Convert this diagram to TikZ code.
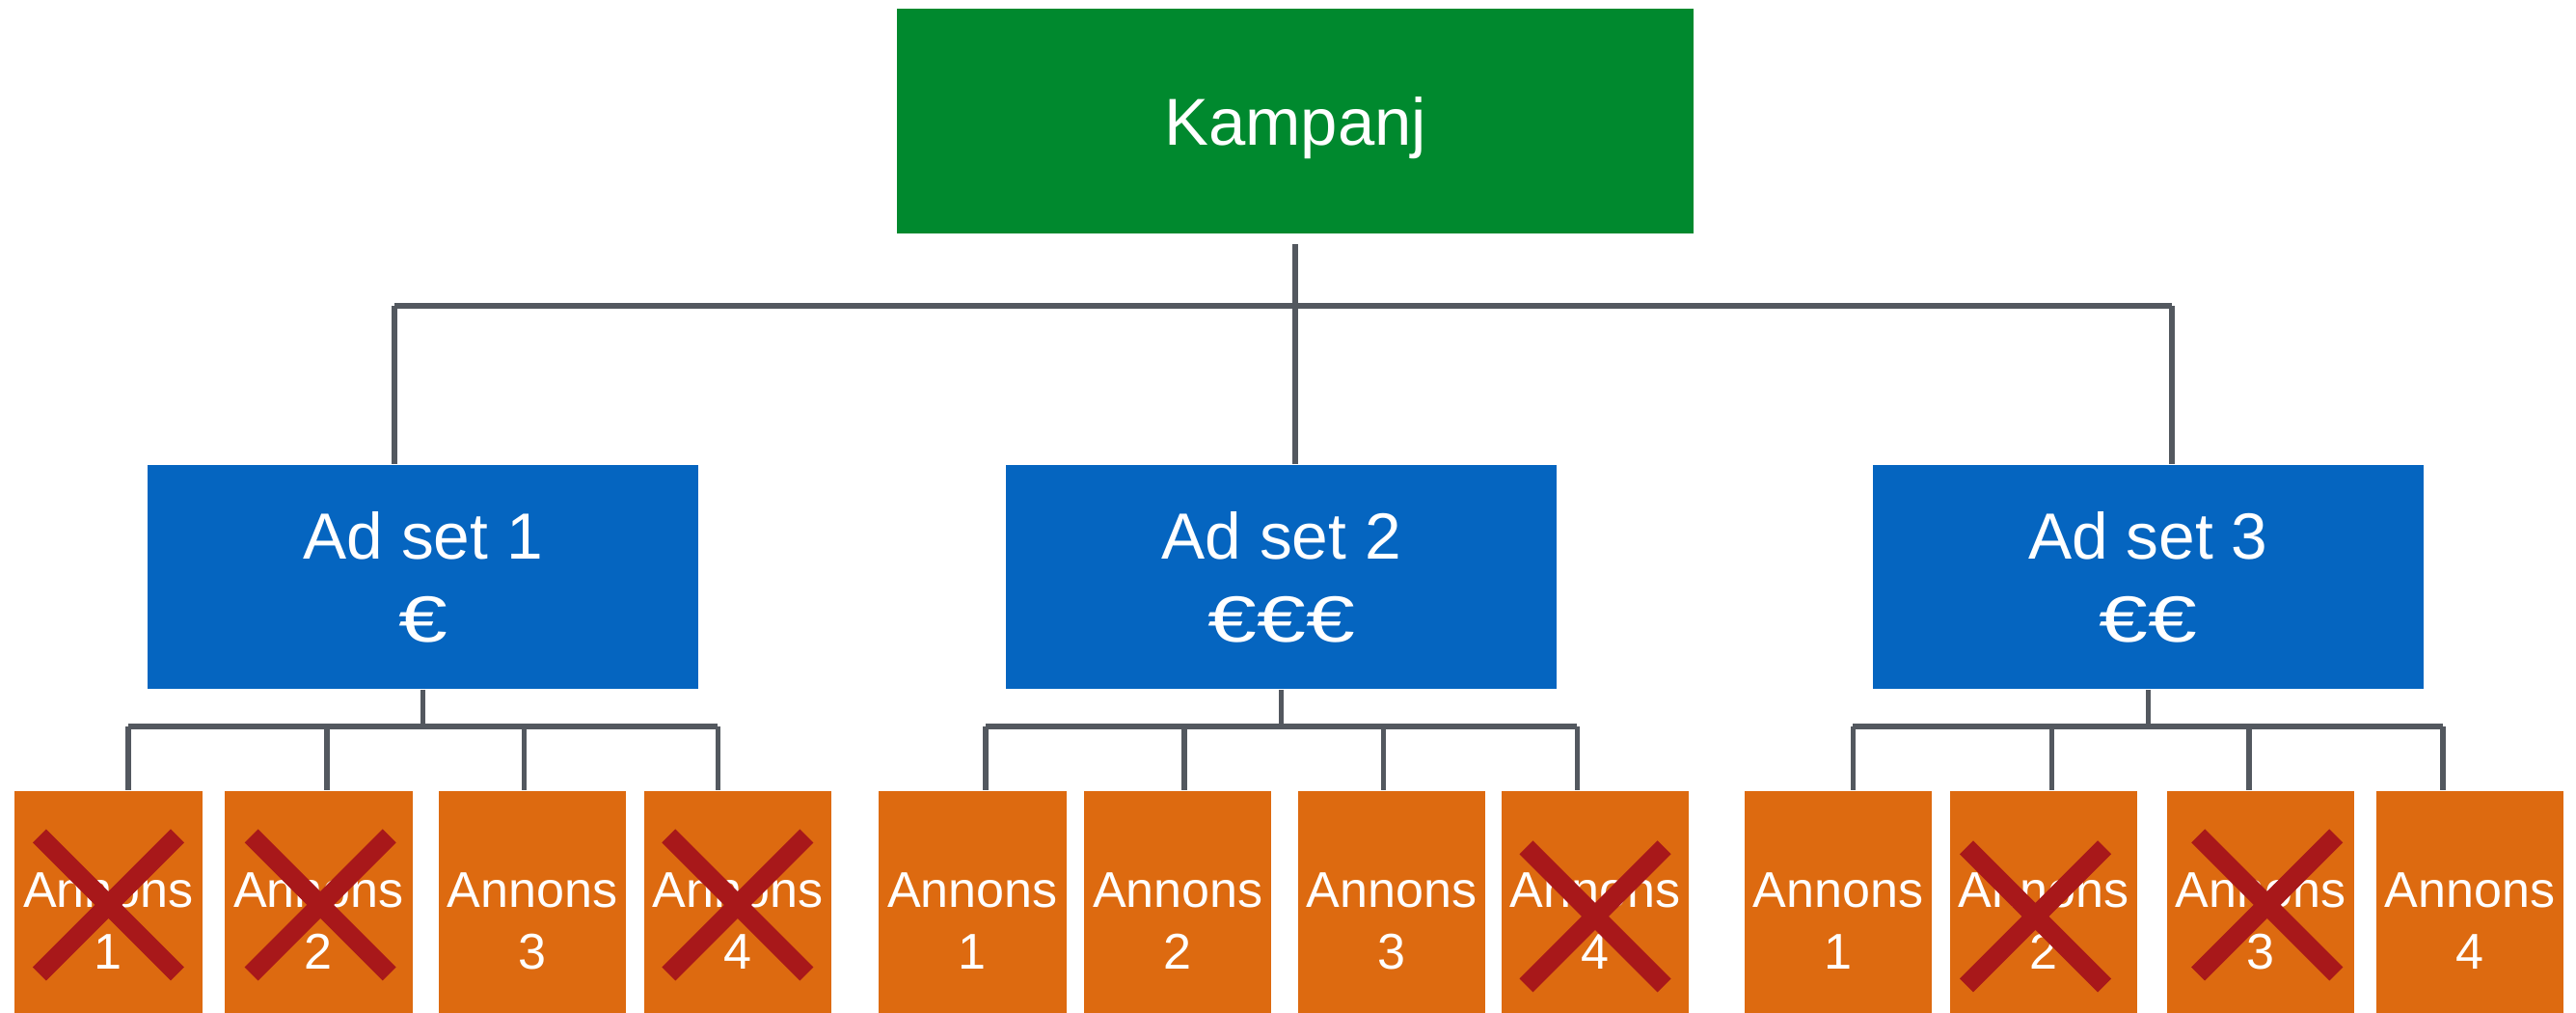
\documentclass[tikz,border=0pt]{standalone}
\usepackage{fontspec}
\setmainfont{Liberation Sans}
\newfontfamily\eurofont[FakeStretch=1.35]{Liberation Sans}
\usepackage{xcolor}
\usepackage{tikz}

\definecolor{kampgreen}{HTML}{00892E}
\definecolor{setblue}{HTML}{0565C0}
\definecolor{adorange}{HTML}{DD6A10}
\definecolor{nixred}{HTML}{A8181A}
\definecolor{linegray}{HTML}{53585F}

\begin{document}
\begin{tikzpicture}[
  x=0.1mm, y=-0.1mm,
  campaign/.style={
    fill=kampgreen, text=white, minimum width=48.5mm, minimum height=13.7mm,
    text depth=0pt, font=\fontsize{11.5}{14}\selectfont
  },
  adset/.style={
    fill=setblue, text=white, minimum width=33.5mm, minimum height=13.6mm,
    align=center, font=\fontsize{11.3}{14.4}\selectfont
  },
  ad/.style={
    fill=adorange, text=white, minimum width=11.4mm, minimum height=15.84mm,
    inner sep=0pt, align=center, font=\fontsize{8.7}{10.7}\selectfont
  },
  conn/.style={draw=linegray, line width=0.9pt},
  nix/.style={draw=nixred, line width=3.3pt},
]
\useasboundingbox (0,0) rectangle (1568,616);

%% ── Campaign and ad sets ─────────────────────────────────────────────────────
\node[campaign] (kampanj) at (788.5, 73.5) {Kampanj};
\node[adset]    (adset1)  at (257.5, 351)  {Ad set 1\\{\eurofont €}};
\node[adset]    (adset2)  at (780,   351)  {Ad set 2\\{\eurofont €€€}};
\node[adset]    (adset3)  at (1307.5,351)  {Ad set 3\\{\eurofont €€}};

%% ── Ads ──────────────────────────────────────────────────────────────────────
\node[ad] (ad11) at (66,    560.6) {Annons\\1};
\node[ad] (ad12) at (194,   560.6) {Annons\\2};
\node[ad] (ad13) at (324,   560.6) {Annons\\3};
\node[ad] (ad14) at (449,   560.6) {Annons\\4};
\node[ad] (ad21) at (592,   560.6) {Annons\\1};
\node[ad] (ad22) at (717,   560.6) {Annons\\2};
\node[ad] (ad23) at (847,   560.6) {Annons\\3};
\node[ad] (ad24) at (971,   560.6) {Annons\\4};
\node[ad] (ad31) at (1119,  560.6) {Annons\\1};
\node[ad] (ad32) at (1244,  560.6) {Annons\\2};
\node[ad] (ad33) at (1376,  560.6) {Annons\\3};
\node[ad] (ad34) at (1503.5,560.6) {Annons\\4};

%% ── Campaign → ad sets ───────────────────────────────────────────────────────
\coordinate (busL) at (240, 186);
\coordinate (busR) at (1322,186);
\draw[conn] ([yshift=-0.6mm]kampanj.south) -- (kampanj.south |- adset2.north);
\draw[conn] (busL) -- (busR);
\draw[conn] (busL) -- (busL |- adset1.north);
\draw[conn] (busR) -- (busR |- adset3.north);

%% ── Ad sets → ads ────────────────────────────────────────────────────────────
\draw[conn] (adset1.south) -- ++(0,23);
\draw[conn] (78,442) -- (437,442);
\foreach \x/\n in {78/ad11, 199/ad12, 319/ad13, 437/ad14}
  \draw[conn] (\x,442) -- (\x,442 |- \n.north);

\draw[conn] (adset2.south) -- ++(0,23);
\draw[conn] (600,442) -- (960,442);
\foreach \x/\n in {600/ad21, 721/ad22, 842/ad23, 960/ad24}
  \draw[conn] (\x,442) -- (\x,442 |- \n.north);

\draw[conn] (adset3.south) -- ++(0,23);
\draw[conn] (1128,442) -- (1487,442);
\foreach \x/\n in {1128/ad31, 1249/ad32, 1369/ad33, 1487/ad34}
  \draw[conn] (\x,442) -- (\x,442 |- \n.north);

%% ── Stopped ads ──────────────────────────────────────────────────────────────
\foreach \n/\dx/\dy in {ad11/0/-10, ad12/1/-10, ad14/0/-10, ad24/0/-3, ad32/-5/-3, ad33/4/-10} {
  \draw[nix] ([shift={(\dx-42,\dy-42)}]\n.center) -- ([shift={(\dx+42,\dy+42)}]\n.center)
             ([shift={(\dx+42,\dy-42)}]\n.center) -- ([shift={(\dx-42,\dy+42)}]\n.center);
}

\end{tikzpicture}
\end{document}
